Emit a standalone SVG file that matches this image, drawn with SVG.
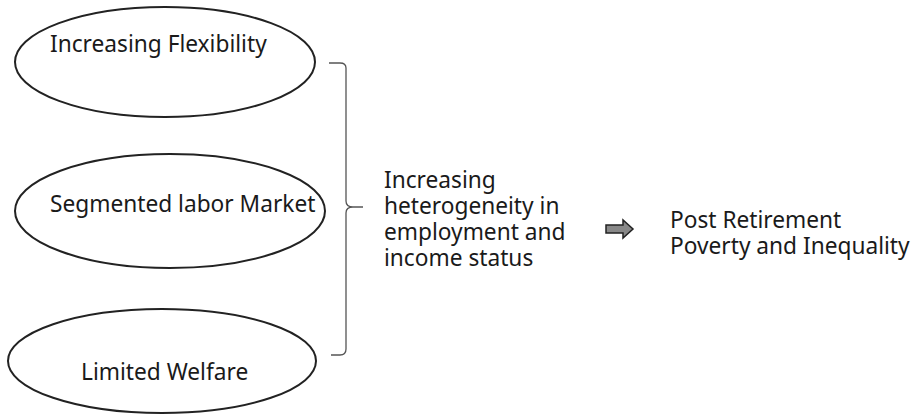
<svg xmlns="http://www.w3.org/2000/svg" width="917" height="414" viewBox="0 0 917 414">
<style>
.node ellipse{fill:#fff;stroke:#222;stroke-width:2}
text{font-family:"Noto Sans","Open Sans","Liberation Sans",sans-serif;font-size:22.7px;fill:#1a1a1a}
.conn{fill:none;stroke:#555;stroke-width:1.3}
</style>
<rect width="917" height="414" fill="#fff"/>
<g id="flex" class="node">
<ellipse cx="165" cy="62" rx="150" ry="55"/>
<text x="50" y="52">Increasing Flexibility</text>
</g>
<g id="seg" class="node">
<ellipse cx="170" cy="211" rx="155" ry="57"/>
<text x="50" y="212">Segmented labor Market</text>
</g>
<g id="welfare" class="node">
<ellipse cx="162" cy="361" rx="154" ry="52"/>
<text x="81" y="380">Limited Welfare</text>
</g>
<g id="connectors">
<path class="conn" d="M329,63 L340,63 Q346,63 346,68 L346,201 Q346,207 353,207 L363,207 M353,207 Q346,207 346,213 L346,349 Q346,355 340,355 L331,355"/>
<path d="M606,225 L623,225 L623,220 L633,229 L623,238 L623,233 L606,233 Z" fill="#888" stroke="#222" stroke-width="1.5"/>
</g>
<g id="hetero" class="node">
<text x="384" y="188">Increasing<tspan x="384" dy="26">heterogeneity in</tspan><tspan x="384" dy="26">employment and</tspan><tspan x="384" dy="26">income status</tspan></text>
</g>
<g id="post" class="node">
<text x="670" y="228">Post Retirement<tspan x="670" dy="26">Poverty and Inequality</tspan></text>
</g>
</svg>
